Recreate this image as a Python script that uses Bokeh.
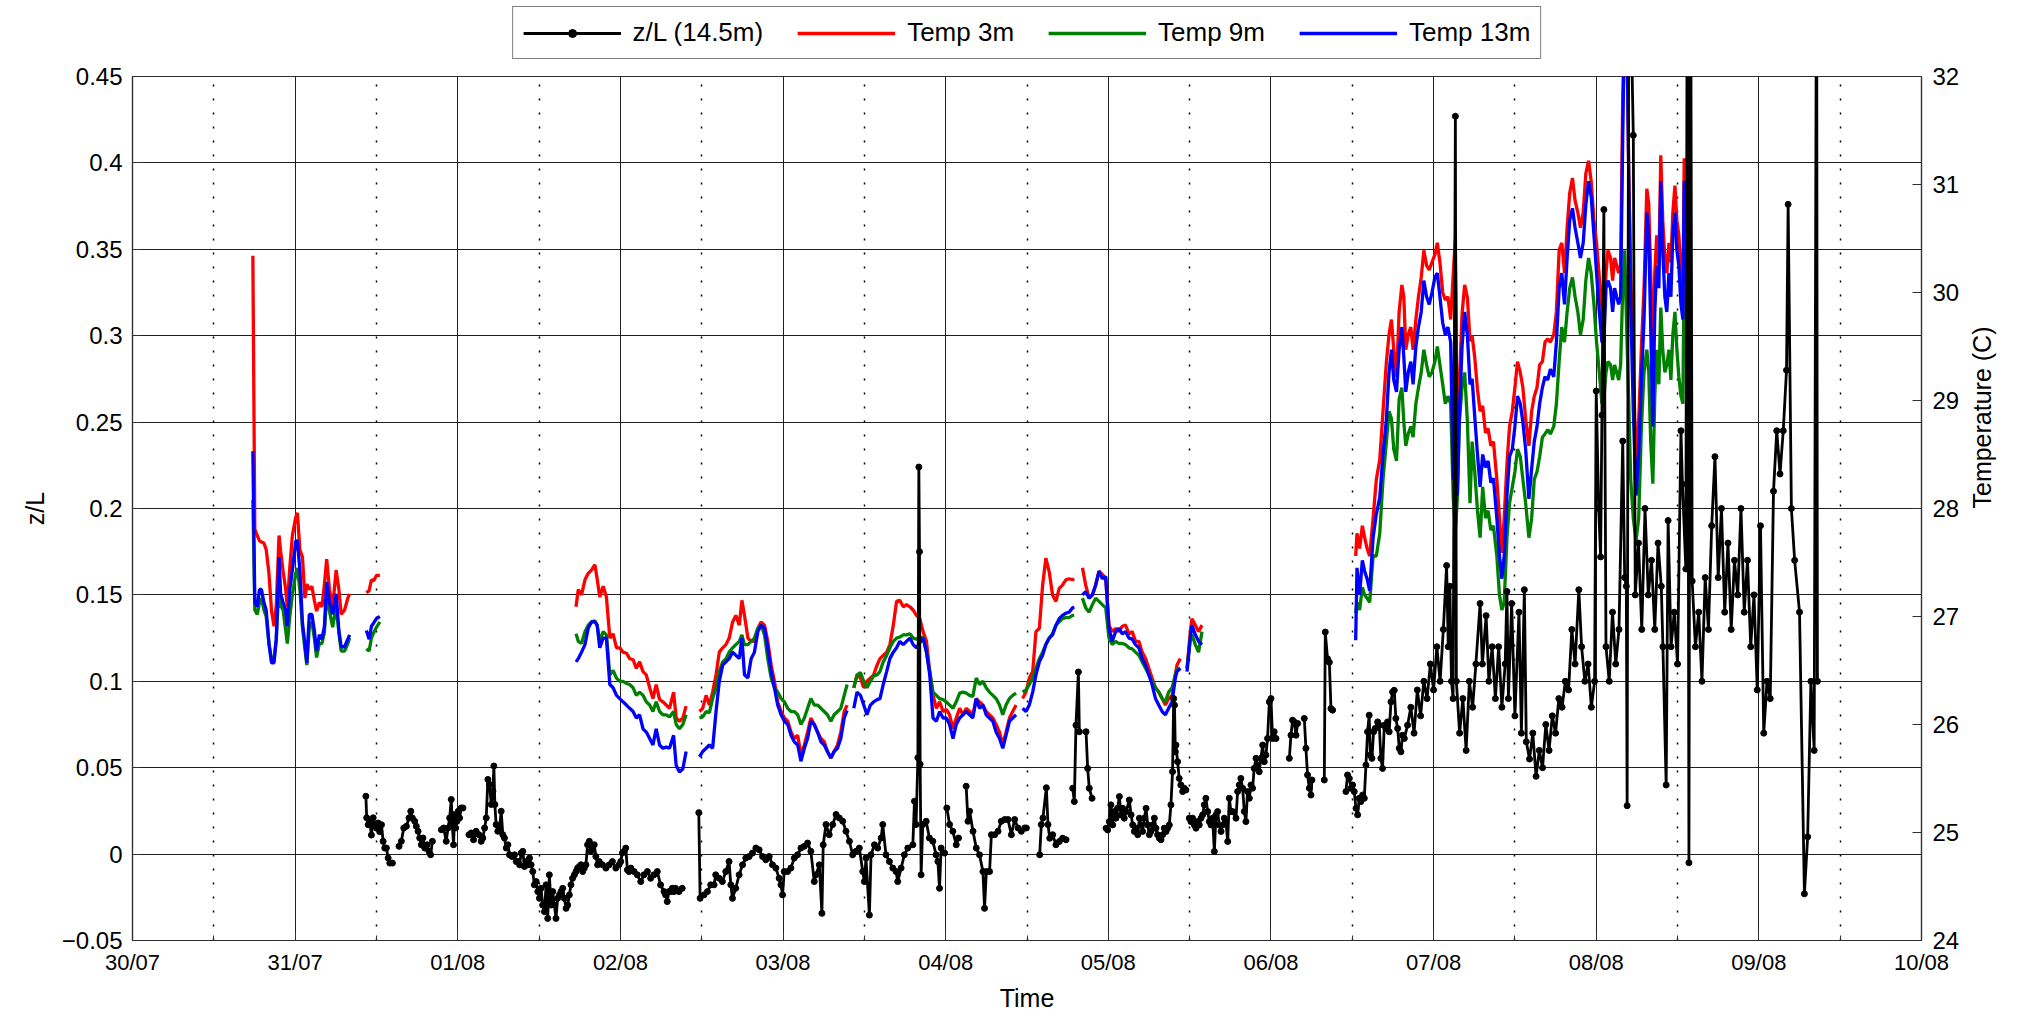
import math
from bokeh.plotting import figure
from bokeh.layouts import column
from bokeh.models import Range1d, LinearAxis, FixedTicker, Legend, LegendItem
from bokeh.embed import file_html
from bokeh.resources import INLINE

nan = float("nan")

# ---------------- tick labels ----------------
day_labels = ["30/07", "31/07", "01/08", "02/08", "03/08", "04/08",
              "05/08", "06/08", "07/08", "08/08", "09/08", "10/08"]
zl_ticks = [-0.05, 0.0, 0.05, 0.1, 0.15, 0.2, 0.25, 0.3, 0.35, 0.4, 0.45]
zl_tick_labels = ["\u22120.05", "0", "0.05", "0.1", "0.15", "0.2", "0.25", "0.3", "0.35", "0.4", "0.45"]
temp_ticks = [24, 25, 26, 27, 28, 29, 30, 31, 32]

# ---------------- temperatures (time in days since 30/07 00:00) ----------------
temp_t1 = [0.740, 0.752, 0.767, 0.781, 0.793, 0.808, 0.822, 0.839, 0.855, 0.870,
           0.884, 0.901, 0.911, 0.926, 0.942, 0.952, 0.967, 0.983, 1.004, 1.014,
           1.029, 1.045, 1.060, 1.072, 1.087, 1.103, 1.118, 1.132, 1.149, 1.165,
           1.180, 1.194, 1.211, 1.231, 1.252, 1.269, 1.283, 1.304, 1.324, 1.335, nan,
           1.438, 1.455, 1.469, 1.483, 1.500, 1.521]
temp3_1 = [30.34, 27.81, 27.75, 27.70, 27.69, 27.68, 27.62, 27.40, 27.05, 26.91,
           27.10, 27.75, 27.60, 27.42, 27.25, 27.09, 27.45, 27.75, 27.92, 27.96,
           27.62, 27.55, 27.17, 27.30, 27.25, 27.28, 27.15, 27.05, 27.13, 27.09,
           27.30, 27.53, 27.25, 27.09, 27.43, 27.25, 27.02, 27.06, 27.17, 27.21, nan,
           27.22, 27.24, 27.34, 27.33, 27.38, 27.38]
temp9_1 = [28.08, 27.06, 27.02, 27.13, 27.17, 27.06, 27.00, 26.75, 26.60, 26.60,
           26.79, 27.30, 27.10, 27.06, 26.87, 26.75, 27.00, 27.20, 27.40, 27.45,
           27.25, 26.90, 26.70, 26.55, 26.90, 26.95, 26.80, 26.62, 26.75, 26.75,
           26.85, 27.20, 27.05, 26.90, 27.10, 26.85, 26.68, 26.68, 26.75, 26.80, nan,
           26.70, 26.68, 26.80, 26.85, 26.90, 26.95]
temp13_1 = [28.53, 27.13, 27.09, 27.25, 27.25, 27.13, 27.06, 26.75, 26.57, 26.57,
            26.79, 27.55, 27.21, 27.13, 27.06, 26.91, 27.25, 27.43, 27.70, 27.70,
            27.43, 26.94, 26.75, 26.57, 27.02, 27.02, 26.87, 26.68, 26.83, 26.79,
            26.91, 27.32, 27.13, 27.02, 27.21, 26.87, 26.72, 26.72, 26.79, 26.83, nan,
            26.87, 26.79, 26.91, 26.94, 26.98, 27.00]

temp_t2a = [2.727, 2.741, 2.761, 2.782, 2.802, 2.822, 2.843, 2.857, 2.873, 2.894,
            2.914, 2.935, 2.955, 2.976, 2.996, 3.016, 3.037, 3.057, 3.078, 3.098,
            3.118, 3.139, 3.159, 3.180, 3.200, 3.220, 3.241, 3.261, 3.282, 3.302,
            3.327, 3.343, 3.363, 3.384, 3.404]
temp3_2a = [27.09, 27.25, 27.20, 27.34, 27.40, 27.43, 27.48, 27.35, 27.18, 27.28,
            27.18, 26.80, 26.84, 26.71, 26.71, 26.67, 26.66, 26.61, 26.60, 26.52,
            26.58, 26.49, 26.46, 26.34, 26.24, 26.37, 26.23, 26.21, 26.18, 26.15,
            26.30, 26.06, 26.03, 26.06, 26.17]
temp9_2a = [26.84, 26.77, 26.75, 26.86, 26.92, 26.95, 26.96, 26.92, 26.77, 26.86,
            26.83, 26.46, 26.50, 26.43, 26.40, 26.40, 26.38, 26.37, 26.34, 26.27,
            26.30, 26.27, 26.21, 26.18, 26.12, 26.21, 26.12, 26.09, 26.09, 26.07,
            26.12, 26.00, 25.96, 26.00, 26.09]
temp13_2a = [26.58, 26.61, 26.67, 26.74, 26.89, 26.95, 26.95, 26.92, 26.71, 26.80,
             26.80, 26.37, 26.34, 26.27, 26.24, 26.21, 26.18, 26.15, 26.12, 26.06,
             26.09, 25.96, 25.93, 25.87, 25.81, 25.96, 25.81, 25.78, 25.79, 25.78,
             25.90, 25.62, 25.56, 25.59, 25.75]

temp_t2b = [3.486, 3.506, 3.527, 3.547, 3.567, 3.588, 3.608, 3.629, 3.649, 3.669,
            3.690, 3.710, 3.731, 3.747, 3.763, 3.784, 3.804, 3.824, 3.845, 3.865,
            3.886, 3.906, 3.927, 3.947, 3.967, 3.988, 4.008, 4.029, 4.049, 4.069,
            4.090, 4.110, 4.131, 4.151, 4.171, 4.192, 4.212, 4.233, 4.253, 4.273,
            4.294, 4.314, 4.335, 4.355, 4.376, 4.394]
temp3_2b = [26.12, 26.15, 26.27, 26.18, 26.30, 26.46, 26.67, 26.71, 26.74, 26.80,
            26.95, 27.01, 26.92, 27.15, 27.01, 26.80, 26.77, 26.77, 26.89, 26.95,
            26.92, 26.77, 26.55, 26.40, 26.21, 26.12, 26.06, 26.03, 25.93, 25.87,
            25.90, 25.72, 25.81, 25.93, 26.06, 26.00, 25.93, 25.87, 25.84, 25.75,
            25.69, 25.75, 25.81, 25.93, 26.12, 26.18]
temp9_2b = [26.06, 26.07, 26.12, 26.11, 26.24, 26.34, 26.49, 26.58, 26.61, 26.67,
            26.71, 26.74, 26.77, 26.83, 26.74, 26.74, 26.77, 26.80, 26.89, 26.92,
            26.83, 26.61, 26.43, 26.34, 26.30, 26.24, 26.21, 26.15, 26.12, 26.12,
            26.09, 26.00, 26.06, 26.15, 26.24, 26.18, 26.18, 26.15, 26.12, 26.09,
            26.03, 26.09, 26.12, 26.15, 26.27, 26.37]
temp13_2b = [25.70, 25.75, 25.78, 25.81, 25.78, 26.12, 26.40, 26.55, 26.58, 26.61,
             26.67, 26.64, 26.61, 26.80, 26.46, 26.43, 26.61, 26.67, 26.86, 26.92,
             26.89, 26.71, 26.49, 26.34, 26.18, 26.09, 26.03, 26.00, 25.90, 25.84,
             25.81, 25.66, 25.78, 25.87, 26.03, 26.00, 25.93, 25.84, 25.81, 25.75,
             25.69, 25.75, 25.78, 25.87, 26.06, 26.13]

temp_t2c = [4.435, 4.455, 4.476, 4.496, 4.516, 4.537, 4.557, 4.578,
            4.596, 4.616, 4.637, 4.657, 4.678, 4.698, 4.718, 4.739, 4.759, 4.780,
            4.800, 4.820, 4.841, 4.861, 4.882, 4.902, 4.922, 4.943, 4.963, 4.984,
            5.004, 5.024, 5.045, 5.065, 5.086, 5.106, 5.127, 5.147, 5.167, 5.188,
            5.208, 5.229, 5.249, 5.269, 5.290, 5.310, 5.331, 5.351, 5.371, 5.392,
            5.412, 5.433]
temp3_2c = [26.34, 26.46, 26.43, 26.34, 26.40, 26.43, 26.46, 26.55,
            26.61, 26.64, 26.67, 26.74, 26.92, 27.14, 27.15, 27.09, 27.11, 27.09,
            27.06, 27.01, 26.98, 26.86, 26.77, 26.49, 26.27, 26.15, 26.21, 26.12,
            26.14, 26.09, 25.96, 26.06, 26.15, 26.09, 26.15, 26.12, 26.09, 26.24,
            26.21, 26.18, 26.12, 26.09, 26.06, 26.00, 25.93, 25.81, 25.93, 26.06,
            26.12, 26.18]
temp9_2c = [26.34, 26.46, 26.48, 26.40, 26.34, 26.40, 26.45, 26.46,
            26.49, 26.58, 26.64, 26.71, 26.77, 26.80, 26.81, 26.83, 26.83, 26.84,
            26.80, 26.79, 26.80, 26.81, 26.67, 26.49, 26.30, 26.27, 26.24, 26.23,
            26.21, 26.18, 26.15, 26.21, 26.29, 26.30, 26.29, 26.27, 26.26, 26.43,
            26.37, 26.40, 26.34, 26.30, 26.27, 26.24, 26.18, 26.09, 26.18, 26.24,
            26.27, 26.29]
temp13_2c = [26.15, 26.30, 26.27, 26.18, 26.09, 26.18, 26.21, 26.23,
             26.24, 26.37, 26.49, 26.61, 26.67, 26.71, 26.77, 26.74, 26.77, 26.80,
             26.74, 26.71, 26.76, 26.80, 26.67, 26.46, 26.06, 26.03, 26.12, 26.06,
             26.06, 26.00, 25.87, 26.00, 26.06, 26.09, 26.12, 26.09, 26.06, 26.24,
             26.15, 26.18, 26.09, 26.06, 26.03, 25.93, 25.87, 25.78, 25.90, 26.03,
             26.06, 26.09]

temp_t2d = [5.473, 5.494, 5.514, 5.535, 5.555, 5.576, 5.596, 5.616, 5.637, 5.657,
            5.678, 5.698, 5.718, 5.739, 5.759, 5.780, 5.790]
temp3_2d = [26.24, 26.30, 26.43, 26.49, 26.86, 26.89, 27.29, 27.54, 27.41, 27.20,
            27.14, 27.26, 27.29, 27.34, 27.35, 27.34, 27.35]
temp9_2d = [26.30, 26.32, 26.37, 26.43, 26.52, 26.61, 26.67, 26.74, 26.80, 26.84,
            26.92, 26.95, 26.98, 26.99, 26.99, 27.01, 27.01]
temp13_2d = [26.15, 26.12, 26.18, 26.30, 26.46, 26.58, 26.64, 26.74, 26.80, 26.83,
             26.92, 26.98, 27.01, 27.03, 27.04, 27.08, 27.09]

temp_t2e = [5.841, 5.861, 5.882, 5.902, 5.922, 5.943, 5.963, 5.984, 6.004, 6.024,
            6.045, 6.065, 6.086, 6.106, 6.127, 6.147, 6.167, 6.188, 6.208, 6.229,
            6.249, 6.269, 6.290, 6.310, 6.331, 6.351, 6.371, 6.392, 6.412, 6.422,
            6.443]
temp3_2e = [27.45, 27.29, 27.17, 27.20, 27.29, 27.42, 27.39, 27.35, 26.92, 26.86,
            26.89, 26.86, 26.91, 26.92, 26.84, 26.86, 26.77, 26.77, 26.67, 26.61,
            26.52, 26.43, 26.34, 26.30, 26.24, 26.18, 26.24, 26.27, 26.46, 26.55,
            26.61]
temp9_2e = [27.17, 27.08, 27.04, 27.11, 27.17, 27.14, 27.11, 27.08, 26.80, 26.74,
            26.77, 26.75, 26.75, 26.74, 26.71, 26.70, 26.67, 26.64, 26.58, 26.52,
            26.46, 26.40, 26.34, 26.30, 26.24, 26.21, 26.30, 26.34, 26.46, 26.51,
            26.52]
temp13_2e = [27.20, 27.23, 27.17, 27.20, 27.29, 27.42, 27.35, 27.37, 26.89, 26.77,
             26.86, 26.89, 26.84, 26.86, 26.80, 26.79, 26.74, 26.71, 26.61, 26.55,
             26.46, 26.37, 26.24, 26.18, 26.12, 26.09, 26.15, 26.21, 26.43, 26.49,
             26.52]

temp_t2f = [6.484, 6.504, 6.514, 6.535, 6.555, 6.576]
temp3_2f = [26.52, 26.86, 26.98, 26.92, 26.86, 26.92]
temp9_2f = [26.52, 26.80, 26.83, 26.74, 26.67, 26.86]
temp13_2f = [26.49, 26.80, 26.92, 26.83, 26.77, 26.74]

temp_t3 = [7.521, 7.529, 7.545, 7.562, 7.576, 7.591, 7.607, 7.628, 7.648, 7.669,
           7.689, 7.710, 7.726, 7.741, 7.755, 7.772, 7.788, 7.805, 7.817, 7.829,
           7.844, 7.860, 7.874, 7.891, 7.907, 7.924, 7.940, 7.957, 7.973, 7.990,
           8.008, 8.023, 8.039, 8.056, 8.072, 8.088, 8.105, 8.121, 8.134, 8.146,
           8.158, 8.175, 8.191, 8.208, 8.224, 8.237, 8.253, 8.270, 8.286, 8.302,
           8.319, 8.335, 8.352, 8.368, 8.389, 8.405, 8.420, 8.434, 8.451, 8.467,
           8.484, 8.500, 8.516, 8.533, 8.549, 8.566, 8.586, 8.603, 8.619, 8.636,
           8.652, 8.669, 8.685, 8.702, 8.718, 8.739, 8.755, 8.772, 8.788, 8.805,
           8.821, 8.837, 8.854, 8.870, 8.887, 8.903, 8.920, 8.936, 8.953, 8.969,
           8.986, 9.002, 9.019, 9.035, 9.047, 9.060, 9.072, 9.088, 9.101, 9.113,
           9.126, 9.138, 9.150, 9.163, 9.175, 9.187, 9.200, 9.212, 9.228, 9.245,
           9.261, 9.278, 9.294, 9.311, 9.323, 9.335, 9.348, 9.360, 9.372, 9.385,
           9.397, 9.409, 9.422, 9.434, 9.447, 9.459, 9.471, 9.484, 9.496, 9.508,
           9.521, 9.533, 9.541, 9.553]
temp3_3 = [27.56, 27.77, 27.63, 27.84, 27.73, 27.63, 27.56, 27.91, 28.27, 28.45,
           28.90, 29.36, 29.61, 29.75, 29.47, 29.22, 29.82, 30.07, 29.96, 29.47,
           29.61, 29.68, 29.47, 29.75, 29.96, 30.14, 30.39, 30.25, 30.21, 30.28,
           30.35, 30.46, 30.28, 30.00, 29.93, 29.96, 29.75, 30.18, 30.50, 28.27,
           29.15, 29.80, 30.07, 29.95, 29.55, 29.60, 29.40, 29.10, 28.90, 28.95,
           28.70, 28.74, 28.58, 28.62, 28.27, 27.91, 27.59, 27.91, 28.41, 28.76,
           28.90, 29.12, 29.36, 29.26, 29.12, 28.83, 28.58, 28.90, 29.04, 29.12,
           29.33, 29.36, 29.54, 29.57, 29.54, 29.61, 29.82, 30.39, 30.46, 30.18,
           30.60, 30.92, 31.06, 30.85, 30.74, 30.60, 30.74, 31.10, 31.22, 31.03,
           30.67, 30.46, 30.14, 29.86, 29.68, 30.18, 30.39, 30.32, 30.11, 30.32,
           30.25, 30.18, 30.25, 31.80, 32.60, 32.60, 31.10, 30.18, 29.30, 28.44,
           28.80, 29.50, 30.04, 30.96, 30.82, 30.18, 29.33, 30.18, 30.53, 30.25,
           31.27, 30.67, 30.32, 30.18, 30.46, 30.28, 30.74, 30.99, 30.67, 30.53,
           30.18, 30.04, 31.24, 31.20]
temp9_3 = [27.03, 27.13, 27.06, 27.27, 27.20, 27.17, 27.13, 27.56, 27.56, 27.77,
           28.27, 28.62, 28.90, 28.83, 28.55, 28.44, 29.01, 29.12, 28.80, 28.58,
           28.69, 28.76, 28.66, 28.97, 29.12, 29.26, 29.47, 29.33, 29.22, 29.26,
           29.36, 29.50, 29.33, 29.15, 28.97, 29.04, 28.97, 28.09, 27.80, 28.09,
           28.80, 29.12, 29.26, 28.80, 28.05, 28.62, 28.34, 27.98, 27.73, 28.20,
           27.91, 27.98, 27.80, 27.84, 27.56, 27.20, 27.06, 27.13, 27.73, 28.05,
           28.20, 28.34, 28.55, 28.48, 28.27, 28.05, 27.73, 27.91, 28.27, 28.34,
           28.48, 28.66, 28.69, 28.73, 28.69, 28.76, 28.97, 29.36, 29.68, 29.54,
           29.82, 30.04, 30.14, 29.96, 29.82, 29.61, 29.75, 30.11, 30.32, 30.18,
           29.89, 29.54, 29.26, 28.97, 29.01, 29.26, 29.36, 29.33, 29.19, 29.33,
           29.26, 29.19, 29.33, 30.04, 30.39, 29.68, 28.97, 28.27, 27.91, 27.70,
           27.91, 28.76, 29.26, 29.47, 29.26, 28.62, 28.23, 29.04, 29.47, 29.15,
           29.86, 29.47, 29.26, 29.33, 29.47, 29.19, 29.61, 29.82, 29.47, 29.22,
           29.04, 28.97, 30.39, 30.32]
temp13_3 = [26.78, 27.45, 27.20, 27.52, 27.42, 27.35, 27.24, 27.73, 27.95, 28.10,
            28.50, 28.83, 29.26, 29.47, 29.19, 29.08, 29.47, 29.68, 29.40, 29.08,
            29.26, 29.36, 29.15, 29.50, 29.68, 29.82, 30.11, 29.96, 29.89, 30.00,
            30.14, 30.18, 29.96, 29.72, 29.61, 29.68, 29.54, 28.27, 30.25, 28.12,
            28.83, 29.50, 29.82, 29.60, 29.15, 29.20, 28.85, 28.50, 28.20, 28.50,
            28.38, 28.44, 28.24, 28.28, 27.91, 27.56, 27.35, 27.56, 28.12, 28.48,
            28.55, 28.76, 29.04, 28.97, 28.80, 28.55, 28.09, 28.37, 28.62, 28.76,
            28.97, 29.12, 29.22, 29.19, 29.29, 29.22, 29.54, 30.04, 30.18, 29.89,
            30.32, 30.67, 30.78, 30.60, 30.46, 30.32, 30.46, 30.81, 31.03, 30.89,
            30.53, 30.18, 29.82, 29.54, 29.54, 30.04, 30.11, 30.04, 29.82, 30.04,
            29.96, 29.89, 29.96, 31.45, 32.60, 32.60, 31.10, 29.89, 28.90, 28.12,
            28.50, 29.20, 29.75, 30.74, 30.53, 29.68, 28.76, 29.82, 30.25, 30.04,
            31.03, 30.39, 29.96, 29.82, 30.18, 29.96, 30.53, 30.74, 30.39, 30.25,
            29.89, 29.75, 31.03, 30.99]

# ---------------- z/L at 14.5 m ----------------
zl_t_a = [1.435, 1.440, 1.449, 1.459, 1.469, 1.480, 1.490, 1.500, 1.510, 1.520,
          1.531, 1.541, 1.551, 1.561, 1.572, 1.582, 1.598]
zl_a = [0.0335, 0.021, 0.017, 0.019, 0.011, 0.021, 0.017, 0.015, 0.018, 0.013,
        0.017, 0.0074, 0.0035, 0.0035, -0.0023, -0.0052, -0.0052]
zl_t_b = [1.639, 1.653, 1.668, 1.684, 1.700, 1.711, 1.721, 1.735, 1.745, 1.756,
          1.766, 1.776, 1.786, 1.797, 1.811, 1.823, 1.833, 1.844]
zl_b = [0.0045, 0.0074, 0.0151, 0.0161, 0.0209, 0.0248, 0.0209, 0.019, 0.0161, 0.0132,
        0.0093, 0.0054, 0.0093, 0.0035, 0.0054, 0.0016, -0.0004, 0.0074]
zl_t_c = [1.899, 1.913, 1.929, 1.940, 1.950, 1.960, 1.966, 1.974, 1.981, 1.987,
          1.995, 2.003, 2.011, 2.021, 2.032]
zl_c = [0.0141, 0.0151, 0.0074, 0.0151, 0.0209, 0.0316, 0.0171, 0.0054, 0.0229, 0.0151,
        0.019, 0.0248, 0.0209, 0.0267, 0.0267]
zl_t_d = [2.069, 2.083, 2.097, 2.113, 2.130, 2.144, 2.154, 2.165, 2.175, 2.185,
          2.195, 2.206, 2.216, 2.222, 2.228, 2.236, 2.246, 2.257, 2.267, 2.277,
          2.287, 2.298, 2.308, 2.318, 2.334, 2.349, 2.359, 2.369, 2.380, 2.390,
          2.400, 2.410, 2.420, 2.431, 2.441, 2.451, 2.461, 2.471, 2.482, 2.492,
          2.502, 2.512, 2.522, 2.533, 2.543, 2.553, 2.563, 2.574, 2.584, 2.594,
          2.604, 2.614, 2.625, 2.635, 2.645, 2.655, 2.666, 2.676, 2.686, 2.696,
          2.706, 2.717, 2.727, 2.737, 2.747, 2.758, 2.768, 2.778, 2.788, 2.798,
          2.809, 2.819, 2.829, 2.839, 2.849, 2.860, 2.870, 2.890, 2.911, 2.931,
          2.951, 2.972, 2.992, 3.002, 3.012, 3.023, 3.033, 3.043, 3.053, 3.064,
          3.084, 3.104, 3.125, 3.145, 3.166, 3.186, 3.206, 3.227, 3.247, 3.268,
          3.278, 3.288, 3.298, 3.309, 3.319, 3.329, 3.339, 3.360, 3.380]
zl_d = [0.0112, 0.0122, 0.0083, 0.0132, 0.0112, 0.0074, 0.0093, 0.0151, 0.0209, 0.0432,
        0.0403, 0.0287, 0.0364, 0.051, 0.0287, 0.0171, 0.0132, 0.0151, 0.0248, 0.0112,
        0.0093, 0.0035, 0.0054, -0.0004, -0.0014, -0.0004, -0.0043, -0.0043, -0.0062, 0.0006,
        0.0016, -0.0072, -0.0043, -0.0062, -0.0023, -0.0062, -0.0101, -0.0178, -0.0159, -0.0217,
        -0.0256, -0.0198, -0.0295, -0.0333, -0.0178, -0.0372, -0.0120, -0.0295, -0.0217, -0.0295,
        -0.0372, -0.0256, -0.0236, -0.0217, -0.0198, -0.0256, -0.0314, -0.0295, -0.0236, -0.0178,
        -0.0140, -0.0120, -0.0101, -0.0081, -0.0072, -0.0062, -0.0101, -0.0081, -0.0062, 0.0054,
        0.0074, 0.0016, 0.0035, 0.0054, -0.0014, -0.0062, -0.0043, -0.0062, -0.0081, -0.0062,
        -0.0043, -0.0081, -0.0062, -0.0043, 0.0006, 0.0016, 0.0035, -0.0091, -0.0101, -0.0081,
        -0.0101, -0.0120, -0.0159, -0.0120, -0.0101, -0.0140, -0.0120, -0.0101, -0.0178, -0.0217,
        -0.0236, -0.0275, -0.0217, -0.0217, -0.0198, -0.0217, -0.0198, -0.0217, -0.0198]
zl_t_e = [3.482, 3.490, 3.514, 3.535, 3.555, 3.576, 3.586, 3.607, 3.627, 3.648, 3.668,
          3.679, 3.689, 3.709, 3.730, 3.751, 3.771, 3.792, 3.812, 3.833, 3.853,
          3.874, 3.894, 3.915, 3.935, 3.956, 3.976, 3.987, 3.997, 4.007, 4.028,
          4.048, 4.069, 4.089, 4.110, 4.131, 4.151, 4.171, 4.192, 4.202, 4.223,
          4.239, 4.247, 4.264, 4.284, 4.305, 4.326, 4.346, 4.367, 4.387, 4.408,
          4.428, 4.449, 4.469, 4.490, 4.500, 4.510, 4.531, 4.541, 4.562, 4.582,
          4.603, 4.613, 4.633, 4.654, 4.675, 4.695, 4.705, 4.726, 4.746, 4.767,
          4.798, 4.808, 4.818, 4.829, 4.835, 4.839, 4.843, 4.849, 4.859, 4.880,
          4.900, 4.921, 4.941, 4.952, 4.962, 4.972, 4.993]
zl_e = [0.024, -0.0256, -0.0236, -0.0217, -0.0178, -0.0178, -0.0120, -0.0140, -0.0159, -0.0101, -0.0043,
        -0.0178, -0.0256, -0.0198, -0.0120, -0.0062, -0.0023, -0.0014, 0.0006, 0.0035, 0.0025,
        -0.0014, -0.0033, -0.0014, -0.0062, -0.0081, -0.0140, -0.0178, -0.0236, -0.0101, -0.0101,
        -0.0081, -0.0023, -0.0004, 0.0035, 0.0045, 0.0064, 0.0016, -0.0159, -0.0120, -0.0062,
        -0.0343, 0.0054, 0.0171, 0.0112, 0.0171, 0.0229, 0.0209, 0.0190, 0.0132, 0.0074,
        -0.0004, 0.0016, 0.0035, -0.0101, -0.0159, -0.0023, -0.0353, -0.0004, 0.0054, 0.0035,
        0.0093, 0.0171, -0.0004, -0.0043, -0.0081, -0.0101, -0.0159, -0.0081, -0.0004, 0.0035,
        0.0054, 0.0306, 0.0171, 0.0558, 0.224, 0.175, 0.052, -0.0120, 0.0171, 0.0190,
        0.0093, 0.0074, -0.0004, -0.0043, -0.0198, 0.0035, 0.0006]
zl_t_f = [5.007, 5.024, 5.044, 5.065, 5.079]
zl_f = [0.0267, 0.0171, 0.0132, 0.0054, 0.0093]
zl_t_g = [5.126, 5.137, 5.147, 5.168, 5.188, 5.208, 5.229, 5.239, 5.250, 5.270,
          5.281, 5.301, 5.322, 5.342, 5.363, 5.383, 5.404, 5.424, 5.445, 5.465,
          5.486, 5.496]
zl_g = [0.0393, 0.0190, 0.0248, 0.0132, 0.0035, -0.0004, -0.0101, -0.0314, -0.0101, -0.0101,
        0.0112, 0.0112, 0.0132, 0.0190, 0.0200, 0.0200, 0.0112, 0.0200, 0.0151, 0.0132,
        0.0151, 0.0151]
zl_t_h = [5.578, 5.588, 5.598, 5.619, 5.629, 5.640, 5.658, 5.678, 5.699, 5.719, 5.740]
zl_h = [-0.0004, 0.0171, 0.0209, 0.0384, 0.0171, 0.0092, 0.0112, 0.0054, 0.0073, 0.0092, 0.0083]
zl_t_i = [5.781, 5.791, 5.801, 5.816, 5.822]
zl_i = [0.0381, 0.0304, 0.0746, 0.1054, 0.0708]
zl_t_j = [5.863, 5.873, 5.883, 5.900]
zl_j = [0.0708, 0.0496, 0.0381, 0.0323]
zl_t_k = [5.986, 5.996, 6.006, 6.016, 6.027, 6.037, 6.047, 6.057, 6.068, 6.078,
          6.088, 6.098, 6.109, 6.129, 6.140, 6.150, 6.160, 6.170, 6.181, 6.191,
          6.201, 6.211, 6.221, 6.232, 6.242, 6.252, 6.262, 6.273, 6.283, 6.293,
          6.303, 6.314, 6.324, 6.334, 6.344, 6.355, 6.365, 6.375, 6.385, 6.395,
          6.402, 6.407, 6.412, 6.416, 6.426, 6.436, 6.446, 6.457, 6.467, 6.477]
zl_k = [0.015, 0.014, 0.0188, 0.0285, 0.0169, 0.0246, 0.0208, 0.0265, 0.0333, 0.0227,
        0.0265, 0.0208, 0.0246, 0.0313, 0.0227, 0.0169, 0.0131, 0.015, 0.0112, 0.0208,
        0.0169, 0.0131, 0.0208, 0.0265, 0.0169, 0.0112, 0.0131, 0.0169, 0.0208, 0.015,
        0.0112, 0.0092, 0.0083, 0.0112, 0.015, 0.0131, 0.015, 0.0169, 0.0285, 0.0477,
        0.090, 0.0862, 0.0592, 0.0631, 0.0535, 0.0438, 0.040, 0.0362, 0.0381, 0.0371]
zl_t_l = [6.498, 6.508, 6.518, 6.529, 6.539, 6.549, 6.559, 6.570, 6.580, 6.590,
          6.600, 6.611, 6.621, 6.631, 6.641, 6.652, 6.662, 6.672, 6.682, 6.693,
          6.703, 6.713, 6.723, 6.734, 6.744, 6.754, 6.764, 6.785, 6.795, 6.805,
          6.815, 6.826, 6.836, 6.846, 6.856, 6.867, 6.877, 6.887, 6.897, 6.908,
          6.918, 6.928, 6.938, 6.949, 6.959, 6.969, 6.979, 6.990, 7.000, 7.010,
          7.020, 7.031]
zl_l = [0.0208, 0.0188, 0.0208, 0.0169, 0.015, 0.0188, 0.0169, 0.0208, 0.0227, 0.0285,
        0.0323, 0.0246, 0.0188, 0.0169, 0.0208, 0.0015, 0.0227, 0.0246, 0.0169, 0.0131,
        0.0169, 0.0208, 0.0188, 0.0073, 0.0323, 0.0246, 0.0246, 0.0208, 0.0362, 0.040,
        0.0438, 0.0381, 0.0246, 0.0188, 0.0362, 0.0323, 0.040, 0.0381, 0.0496, 0.0554,
        0.0515, 0.0477, 0.0554, 0.0631, 0.0535, 0.0573, 0.0669, 0.0881, 0.090, 0.0669,
        0.0708, 0.0669]
zl_t_m = [7.113, 7.123, 7.133, 7.143, 7.154, 7.164]
zl_m = [0.0554, 0.0688, 0.0775, 0.0765, 0.0688, 0.0756]
zl_t_n = [7.205, 7.215, 7.225, 7.236, 7.246, 7.252]
zl_n = [0.0785, 0.0612, 0.0458, 0.0381, 0.0342, 0.0429]
zl_t_o = [7.328, 7.334, 7.348, 7.359, 7.369, 7.379]
zl_o = [0.0429, 0.1285, 0.113, 0.111, 0.0842, 0.0833]
zl_t_p = [7.461, 7.471, 7.482, 7.492, 7.502, 7.512, 7.523, 7.533, 7.543, 7.553,
          7.564, 7.574, 7.584, 7.594, 7.604, 7.611, 7.621, 7.631, 7.641, 7.656,
          7.666, 7.676, 7.686, 7.697, 7.707, 7.717, 7.727, 7.738, 7.748, 7.758,
          7.768, 7.779, 7.789, 7.799, 7.809, 7.820, 7.840,
          7.86, 7.88, 7.90, 7.92, 7.94, 7.96, 7.98, 8.00, 8.02, 8.04,
          8.06, 8.08, 8.09, 8.10, 8.11, 8.12, 8.134, 8.14, 8.16, 8.18,
          8.20, 8.22, 8.24, 8.26, 8.286, 8.30, 8.323, 8.34, 8.36, 8.38,
          8.40, 8.42, 8.44, 8.451, 8.46, 8.48, 8.50, 8.525, 8.54, 8.558,
          8.57, 8.59, 8.61, 8.63, 8.65, 8.67, 8.69, 8.71, 8.73, 8.75,
          8.77, 8.79, 8.81, 8.83, 8.85, 8.87, 8.893, 8.91, 8.93, 8.95,
          8.97, 8.99, 9.00, 9.015, 9.027, 9.035, 9.047, 9.06, 9.08, 9.10,
          9.12, 9.14, 9.163, 9.175, 9.185, 9.190, 9.200, 9.215, 9.228, 9.24,
          9.26, 9.28, 9.30, 9.32, 9.34, 9.36, 9.38, 9.40, 9.41, 9.43,
          9.442, 9.46, 9.48, 9.50, 9.521, 9.53, 9.551, 9.56, 9.57, 9.58,
          9.59, 9.61, 9.63, 9.65, 9.67, 9.69, 9.71, 9.73, 9.75, 9.77,
          9.79, 9.81, 9.83, 9.85, 9.87, 9.89, 9.91, 9.93, 9.95, 9.97,
          9.99, 10.01, 10.03, 10.05, 10.07, 10.09, 10.11, 10.13, 10.15, 10.17,
          10.18, 10.20, 10.22, 10.25, 10.28, 10.30, 10.32, 10.34, 10.355, 10.36]
zl_p = [0.0362, 0.0458, 0.0438, 0.0381, 0.040, 0.0362, 0.0265, 0.0227, 0.0323, 0.0304,
        0.0342, 0.0323, 0.0515, 0.0708, 0.0804, 0.0573, 0.0554, 0.0708, 0.0727, 0.0765,
        0.0746, 0.0554, 0.0496, 0.0746, 0.0727, 0.0765, 0.0708, 0.0881, 0.0938, 0.0948,
        0.0785, 0.0727, 0.0612, 0.0592, 0.0688, 0.0669, 0.0746,
        0.085, 0.07, 0.095, 0.08, 0.10, 0.09, 0.11, 0.095, 0.12, 0.10,
        0.13, 0.167, 0.12, 0.155, 0.10, 0.09, 0.427, 0.10, 0.07, 0.09,
        0.06, 0.10, 0.085, 0.11, 0.145, 0.11, 0.138, 0.10, 0.12, 0.09,
        0.12, 0.085, 0.11, 0.152, 0.09, 0.145, 0.08, 0.14, 0.07, 0.153,
        0.065, 0.055, 0.07, 0.045, 0.06, 0.05, 0.075, 0.06, 0.08, 0.07,
        0.09, 0.085, 0.10, 0.095, 0.13, 0.11, 0.153, 0.12, 0.10, 0.11,
        0.085, 0.10, 0.268, 0.20, 0.172, 0.254, 0.373, 0.12, 0.10, 0.14,
        0.11, 0.13, 0.239, 0.16, 0.155, 0.028, 0.52, 0.48, 0.416, 0.15,
        0.18, 0.13, 0.20, 0.15, 0.17, 0.13, 0.18, 0.155, 0.12, 0.04,
        0.193, 0.12, 0.14, 0.11, 0.245, 0.214, 0.165, 0.55, -0.005, 0.55,
        0.158, 0.12, 0.14, 0.10, 0.16, 0.13, 0.19, 0.23, 0.16, 0.20,
        0.14, 0.18, 0.13, 0.17, 0.15, 0.20, 0.14, 0.17, 0.12, 0.15,
        0.095, 0.19, 0.07, 0.10, 0.09, 0.21, 0.245, 0.22, 0.245, 0.28,
        0.376, 0.20, 0.17, 0.14, -0.023, 0.01, 0.10, 0.06, 0.55, 0.10]


def join(*parts):
    out = []
    for i, part in enumerate(parts):
        if i:
            out.append(nan)
        out.extend(part)
    return out


temp_t = join(temp_t1, temp_t2a, temp_t2b, temp_t2c, temp_t2d, temp_t2e, temp_t2f, temp_t3)
temp_3m = join(temp3_1, temp3_2a, temp3_2b, temp3_2c, temp3_2d, temp3_2e, temp3_2f, temp3_3)
temp_9m = join(temp9_1, temp9_2a, temp9_2b, temp9_2c, temp9_2d, temp9_2e, temp9_2f, temp9_3)
temp_13m = join(temp13_1, temp13_2a, temp13_2b, temp13_2c, temp13_2d, temp13_2e, temp13_2f, temp13_3)
zl_t = join(zl_t_a, zl_t_b, zl_t_c, zl_t_d, zl_t_e, zl_t_f, zl_t_g, zl_t_h, zl_t_i,
            zl_t_j, zl_t_k, zl_t_l, zl_t_m, zl_t_n, zl_t_o, zl_t_p)
zl = join(zl_a, zl_b, zl_c, zl_d, zl_e, zl_f, zl_g, zl_h, zl_i, zl_j, zl_k, zl_l,
          zl_m, zl_n, zl_o, zl_p)
assert len(temp_t) == len(temp_3m) == len(temp_9m) == len(temp_13m)
assert len(zl_t) == len(zl)

FONT = "Liberation Sans"
C3, C9, C13, CZ = "#ff0000", "#008000", "#0000ff", "black"
LW_T, LW_Z, MS_Z = 3.3, 2.8, 6

# ---------------- main chart ----------------
p = figure(width=2024, height=954, output_backend="svg", toolbar_location=None,
           x_range=Range1d(0, 11), y_range=Range1d(-0.05, 0.45),
           min_border_left=132, min_border_right=103, min_border_top=16, min_border_bottom=72,
           background_fill_color="white", border_fill_color="white")
p.extra_y_ranges = {"temp": Range1d(24, 32)}

xt = FixedTicker(ticks=list(range(len(day_labels))),
                 minor_ticks=[i + 0.5 for i in range(len(day_labels) - 1)])
yt = FixedTicker(ticks=zl_ticks, minor_ticks=[])
tt = FixedTicker(ticks=temp_ticks, minor_ticks=[])

xa = p.xaxis[0]
xa.ticker = xt
xa.major_label_overrides = {i: lab for i, lab in enumerate(day_labels)}
xa.axis_label = "Time"

ya = p.yaxis[0]
ya.ticker = yt
ya.major_label_overrides = {v: lab for v, lab in zip(zl_ticks, zl_tick_labels)}
ya.axis_label = "z/L"

ra = LinearAxis(y_range_name="temp", ticker=tt, axis_label="Temperature (C)")
p.add_layout(ra, "right")
if "axis_label_orientation" in ra.properties():
    ra.axis_label_orientation = math.pi / 2

for ax in (xa, ya, ra):
    ax.major_tick_in = 9
    ax.major_tick_out = 0
    ax.minor_tick_in = 5
    ax.minor_tick_out = 0
    ax.axis_line_color = "#303030"
    ax.axis_line_width = 1.2
    ax.major_tick_line_color = "#303030"
    ax.minor_tick_line_color = "#303030"
    ax.major_label_text_font = FONT
    ax.major_label_text_color = "black"
    ax.axis_label_text_font = FONT
    ax.axis_label_text_font_style = "normal"
    ax.axis_label_text_font_size = "25px"
    ax.axis_label_text_color = "black"

xa.major_label_text_font_size = "22px"
xa.major_label_standoff = 9
xa.axis_label_standoff = 6
ya.major_label_text_font_size = "24px"
ya.major_label_standoff = 10
ya.axis_label_standoff = 10
ra.major_label_text_font_size = "24px"
ra.major_label_standoff = 11
ra.axis_label_standoff = 20

p.xgrid.ticker = xt
p.xgrid.grid_line_color = "#202020"
p.xgrid.grid_line_width = 1
p.xgrid.minor_grid_line_color = "black"
p.xgrid.minor_grid_line_dash = "2 12"
p.xgrid.minor_grid_line_width = 1.5
p.ygrid.ticker = yt
p.ygrid.grid_line_color = "#202020"
p.ygrid.grid_line_width = 1

p.outline_line_color = "#303030"
p.outline_line_width = 1.2

p.line(temp_t, temp_3m, y_range_name="temp", line_color=C3, line_width=LW_T)
p.line(temp_t, temp_9m, y_range_name="temp", line_color=C9, line_width=LW_T)
p.line(temp_t, temp_13m, y_range_name="temp", line_color=C13, line_width=LW_T)
p.line(zl_t, zl, line_color=CZ, line_width=LW_Z)
p.scatter(zl_t, zl, size=MS_Z, color=CZ)

# ---------------- legend strip on top ----------------
# The same series are drawn here only as legend proxies: the y range is far away
# from the data, so nothing shows but the legend entries.
lg = figure(width=2024, height=60, output_backend="svg", toolbar_location=None,
            x_range=Range1d(0, 11), y_range=Range1d(1000, 1001),
            x_axis_type=None, y_axis_type=None, min_border=0,
            outline_line_color=None, background_fill_color="white", border_fill_color="white")
lg.grid.visible = False
lz = lg.line(zl_t, zl, line_color=CZ, line_width=LW_Z)
lzs = lg.scatter(zl_t, zl, size=MS_Z, color=CZ)
l3 = lg.line(temp_t, temp_3m, line_color=C3, line_width=LW_T)
l9 = lg.line(temp_t, temp_9m, line_color=C9, line_width=LW_T)
l13 = lg.line(temp_t, temp_13m, line_color=C13, line_width=LW_T)

legend = Legend(
    items=[LegendItem(label="z/L (14.5m)", renderers=[lz, lzs]),
           LegendItem(label="Temp 3m", renderers=[l3]),
           LegendItem(label="Temp 9m", renderers=[l9]),
           LegendItem(label="Temp 13m", renderers=[l13])],
    orientation="horizontal", location="bottom_center",
    label_text_font=FONT, label_text_font_size="26px", label_text_color="black",
    glyph_width=98, glyph_height=20, label_standoff=12, spacing=34,
    padding=10, margin=1, border_line_color="black", border_line_width=1.5,
    background_fill_color="white", background_fill_alpha=1.0)
lg.add_layout(legend)

layout = column(lg, p, spacing=0)
open("out.html", "w").write(file_html(layout, INLINE))
